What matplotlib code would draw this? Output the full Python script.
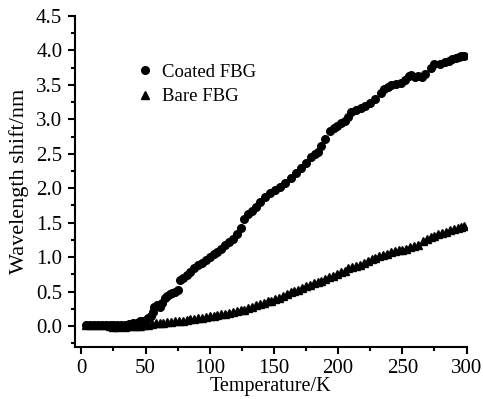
import matplotlib.pyplot as plt
from matplotlib.ticker import MultipleLocator

# Dados
coated_T = [4, 7, 10, 13, 16, 19, 22, 25, 28, 31, 34, 37, 40, 43, 46, 48, 50, 52, 54, 56,
            57, 59, 61, 63, 65, 67, 69, 71, 73, 75, 77, 79, 82, 85, 88, 91, 94, 97, 100, 103,
            106, 109, 112, 115, 118, 121, 124, 127, 130, 133, 136, 139, 143, 147, 151, 155,
            159, 163, 167, 171, 175, 179, 182, 184, 187, 190, 194, 197, 199, 202, 205, 208,
            210, 214, 218, 221, 225, 229, 233, 236, 239, 241, 245, 249, 252, 255, 257, 260,
            262, 265, 268, 272, 275, 279, 283, 286, 289, 292, 294, 296, 298]
coated_V = [0.01, 0.02, 0.02, 0.01, 0.02, 0.02, 0.01, 0.01, 0.01, 0.02, 0.02, 0.03, 0.04,
            0.05, 0.07, 0.08, 0.09, 0.11, 0.14, 0.20, 0.28, 0.30, 0.28, 0.33, 0.40, 0.43,
            0.46, 0.48, 0.50, 0.52, 0.67, 0.70, 0.74, 0.79, 0.84, 0.88, 0.92, 0.96, 1.00,
            1.04, 1.08, 1.12, 1.17, 1.22, 1.27, 1.33, 1.42, 1.55, 1.62, 1.67, 1.73, 1.80,
            1.88, 1.93, 1.98, 2.02, 2.08, 2.15, 2.22, 2.30, 2.37, 2.45, 2.50, 2.53, 2.62,
            2.72, 2.83, 2.87, 2.90, 2.94, 2.98, 3.04, 3.10, 3.13, 3.17, 3.20, 3.24, 3.30,
            3.38, 3.44, 3.47, 3.50, 3.51, 3.53, 3.57, 3.63, 3.64, 3.62, 3.63, 3.61, 3.66,
            3.75, 3.80, 3.80, 3.83, 3.85, 3.87, 3.89, 3.90, 3.92, 3.92]

bare_T = [4, 7, 10, 13, 16, 19, 22, 25, 28, 31, 34, 37, 40, 43, 46, 49, 52, 55, 58, 61,
          64, 67, 70, 73, 76, 79, 82, 85, 88, 91, 94, 97, 100, 103, 106, 109, 112, 115,
          118, 121, 124, 127, 130, 133, 136, 139, 142, 145, 148, 151, 154, 157, 160, 163,
          166, 169, 172, 175, 178, 181, 184, 187, 190, 193, 196, 199, 202, 205, 208, 211,
          214, 217, 220, 223, 226, 229, 232, 235, 238, 241, 244, 247, 250, 253, 256, 259,
          262, 266, 269, 272, 275, 278, 281, 284, 287, 290, 293, 296, 298]
bare_V = [0.01, 0.02, 0.02, 0.02, 0.01, 0.01, 0.00, -0.01, -0.01, 0.00, -0.01, 0.00, 0.00,
          0.00, 0.00, 0.01, 0.02, 0.03, 0.04, 0.04, 0.05, 0.06, 0.06, 0.07, 0.08, 0.08,
          0.09, 0.10, 0.10, 0.11, 0.12, 0.13, 0.14, 0.15, 0.16, 0.17, 0.18, 0.19, 0.20,
          0.22, 0.23, 0.24, 0.26, 0.28, 0.30, 0.32, 0.34, 0.36, 0.37, 0.39, 0.41, 0.43,
          0.46, 0.49, 0.51, 0.53, 0.55, 0.58, 0.60, 0.62, 0.64, 0.66, 0.69, 0.71, 0.73,
          0.75, 0.78, 0.80, 0.84, 0.86, 0.87, 0.89, 0.92, 0.95, 0.97, 0.99, 1.01, 1.03,
          1.05, 1.07, 1.09, 1.10, 1.11, 1.12, 1.14, 1.16, 1.18, 1.24, 1.27, 1.29, 1.31,
          1.33, 1.35, 1.37, 1.39, 1.41, 1.43, 1.44, 1.45]

plt.rcParams['font.family'] = ['Liberation Serif', 'DejaVu Serif']

fig = plt.figure(figsize=(4.83, 3.99), dpi=100)
ax = fig.add_axes([0.155, 0.131, 0.811, 0.829])

ax.plot(coated_T, coated_V, 'o', color='black', ms=5.5, label='Coated FBG')
ax.plot(bare_T, bare_V, '^', color='black', ms=6, label='Bare FBG')

ax.set_xlim(-5, 300)
ax.set_ylim(-0.3, 4.5)
ax.xaxis.set_major_locator(MultipleLocator(50))
ax.xaxis.set_minor_locator(MultipleLocator(25))
ax.yaxis.set_minor_locator(MultipleLocator(0.25))
ax.set_yticks([0.0, 0.5, 1.0, 1.5, 2.0, 2.5, 3.0, 3.5, 4.0, 4.5])
ax.set_yticklabels(['0.0', '0.5', '1.0', '1.5', '2.0', '2.5', '3.0', '3.5', '4.0', '4.5'])

for s in ['top', 'right']:
    ax.spines[s].set_visible(False)
for s in ['left', 'bottom']:
    ax.spines[s].set_linewidth(1.5)
ax.tick_params(which='major', direction='out', length=5, width=1.5, labelsize=15, pad=4)
ax.tick_params(axis='x', which='major', pad=4)
ax.tick_params(which='minor', direction='out', length=3, width=1.5)

ax.set_xlabel('Temperature/K', fontsize=14.5, labelpad=-1)
ax.set_ylabel('Wavelength shift/nm', fontsize=16, labelpad=5)

ax.legend(loc='upper left', bbox_to_anchor=(0.155, 0.856), frameon=False,
          borderaxespad=0, borderpad=0, handletextpad=0.39, labelspacing=0.4,
          fontsize=13.5, handlelength=1)

fig.savefig('out.png', dpi=100)
